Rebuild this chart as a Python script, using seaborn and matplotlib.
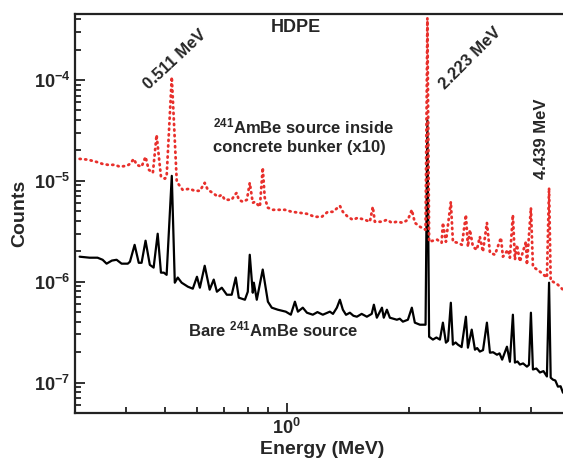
import numpy as np
import matplotlib
matplotlib.use("Agg")
import matplotlib.pyplot as plt
import matplotlib.ticker as mticker
import seaborn as sns

# Bare 241AmBe source (black)
bare_energy = [0.308, 0.326, 0.341, 0.351, 0.359, 0.370, 0.380, 0.391, 0.405, 0.410,
               0.421, 0.431, 0.438, 0.448, 0.459, 0.469, 0.480, 0.489, 0.497, 0.505,
               0.520, 0.529, 0.538, 0.550, 0.570, 0.586, 0.600, 0.610, 0.627, 0.645,
               0.660, 0.672, 0.691, 0.711, 0.731, 0.748, 0.761, 0.788, 0.801, 0.810,
               0.824, 0.829, 0.843, 0.872, 0.898, 0.918, 0.950, 0.994, 1.023, 1.047,
               1.065, 1.095, 1.121, 1.159, 1.190, 1.227, 1.277, 1.300, 1.329, 1.352,
               1.375, 1.400, 1.431, 1.460, 1.489, 1.530, 1.576, 1.620, 1.640, 1.668,
               1.717, 1.735, 1.766, 1.796, 1.830, 1.869, 1.900, 1.934, 1.990, 2.035,
               2.070, 2.130, 2.200, 2.223, 2.245, 2.294, 2.340, 2.387, 2.428, 2.470,
               2.500, 2.540, 2.570, 2.610, 2.644, 2.700, 2.767, 2.799, 2.860, 2.913,
               2.950, 2.995, 3.050, 3.118, 3.172, 3.230, 3.301, 3.350, 3.400, 3.494,
               3.553, 3.614, 3.656, 3.710, 3.761, 3.830, 3.914, 3.960, 4.004, 4.050,
               4.130, 4.214, 4.300, 4.385, 4.439, 4.480, 4.538, 4.600, 4.668, 4.740,
               4.803, 4.900, 5.000]
bare_counts = [1.77e-6, 1.73e-6, 1.73e-6, 1.65e-6, 1.51e-6, 1.62e-6, 1.65e-6, 1.51e-6, 1.51e-6, 1.58e-6,
               2.32e-6, 1.54e-6, 1.54e-6, 2.55e-6, 1.47e-6, 1.38e-6, 2.99e-6, 1.23e-6, 1.23e-6, 1.17e-6,
               1.12e-5, 9.78e-7, 1.10e-6, 9.78e-7, 8.92e-7, 8.53e-7, 1.12e-6, 8.72e-7, 1.44e-6, 8.34e-7,
               1.05e-6, 7.96e-7, 8.72e-7, 7.43e-7, 7.43e-7, 1.10e-6, 6.95e-7, 6.63e-7, 7.96e-7, 1.85e-6,
               7.78e-7, 9.78e-7, 6.63e-7, 1.32e-6, 6.34e-7, 5.53e-7, 5.28e-7, 5.05e-7, 4.71e-7, 6.34e-7,
               5.05e-7, 5.53e-7, 4.93e-7, 4.71e-7, 5.00e-7, 4.71e-7, 5.05e-7, 4.80e-7, 5.53e-7, 6.63e-7,
               5.28e-7, 4.70e-7, 4.93e-7, 4.60e-7, 4.50e-7, 4.80e-7, 4.50e-7, 4.80e-7, 5.92e-7, 4.40e-7,
               5.53e-7, 4.40e-7, 5.28e-7, 4.40e-7, 4.30e-7, 4.20e-7, 4.30e-7, 4.02e-7, 4.20e-7, 5.53e-7,
               3.93e-7, 3.75e-7, 3.75e-7, 4.00e-5, 2.85e-7, 2.67e-7, 2.80e-7, 2.67e-7, 3.93e-7, 2.49e-7,
               2.60e-7, 6.19e-7, 2.38e-7, 2.50e-7, 2.38e-7, 2.25e-7, 4.50e-7, 2.22e-7, 3.35e-7, 2.12e-7,
               2.20e-7, 2.03e-7, 2.10e-7, 3.93e-7, 1.98e-7, 2.00e-7, 1.89e-7, 1.95e-7, 1.69e-7, 2.27e-7,
               1.61e-7, 4.71e-7, 1.58e-7, 1.62e-7, 1.51e-7, 1.55e-7, 1.44e-7, 1.50e-7, 4.93e-7, 1.35e-7,
               1.38e-7, 1.26e-7, 1.30e-7, 1.15e-7, 9.78e-7, 1.12e-7, 1.07e-7, 1.05e-7, 9.13e-8, 9.20e-8,
               7.96e-8, 7.80e-8, 7.40e-8]

# 241AmBe source inside concrete bunker, x10 (red dotted)
bunker_energy = [0.308, 0.323, 0.339, 0.351, 0.362, 0.376, 0.387, 0.403, 0.410, 0.419,
                 0.426, 0.438, 0.448, 0.456, 0.467, 0.477, 0.489, 0.500, 0.505, 0.520,
                 0.535, 0.553, 0.576, 0.592, 0.610, 0.627, 0.638, 0.656, 0.676, 0.691,
                 0.703, 0.731, 0.744, 0.752, 0.761, 0.779, 0.797, 0.810, 0.824, 0.834,
                 0.858, 0.872, 0.882, 0.898, 0.924, 0.950, 0.989, 1.029, 1.077, 1.121,
                 1.172, 1.220, 1.262, 1.299, 1.352, 1.375, 1.414, 1.455, 1.497, 1.558,
                 1.603, 1.630, 1.649, 1.717, 1.766, 1.816, 1.869, 1.934, 1.990, 2.035,
                 2.070, 2.130, 2.200, 2.223, 2.245, 2.294, 2.350, 2.410, 2.428, 2.470,
                 2.540, 2.570, 2.644, 2.705, 2.767, 2.799, 2.831, 2.880, 2.945, 2.995,
                 3.048, 3.118, 3.172, 3.264, 3.377, 3.415, 3.514, 3.553, 3.614, 3.656,
                 3.698, 3.761, 3.892, 3.914, 4.004, 4.050, 4.214, 4.385, 4.439, 4.480,
                 4.538, 4.668, 4.803, 5.000]
bunker_counts = [1.65e-5, 1.62e-5, 1.54e-5, 1.47e-5, 1.44e-5, 1.44e-5, 1.38e-5, 1.41e-5, 1.47e-5, 1.65e-5,
                 1.44e-5, 1.38e-5, 1.73e-5, 1.29e-5, 1.20e-5, 2.85e-5, 1.10e-5, 1.05e-5, 1.10e-5, 1.07e-4,
                 9.78e-6, 8.15e-6, 8.34e-6, 7.96e-6, 7.96e-6, 9.55e-6, 8.15e-6, 7.60e-6, 6.95e-6, 7.26e-6,
                 6.49e-6, 6.49e-6, 7.26e-6, 7.60e-6, 6.49e-6, 6.19e-6, 6.49e-6, 9.55e-6, 6.05e-6, 6.19e-6,
                 5.53e-6, 1.35e-5, 6.79e-6, 5.41e-6, 5.16e-6, 5.16e-6, 5.16e-6, 4.93e-6, 4.82e-6, 4.71e-6,
                 4.40e-6, 4.40e-6, 4.93e-6, 4.93e-6, 5.65e-6, 4.93e-6, 4.40e-6, 4.11e-6, 4.30e-6, 4.11e-6,
                 3.93e-6, 5.53e-6, 3.93e-6, 3.93e-6, 4.11e-6, 3.84e-6, 3.93e-6, 3.84e-6, 4.11e-6, 5.16e-6,
                 3.84e-6, 3.51e-6, 3.27e-6, 4.10e-4, 2.49e-6, 2.55e-6, 2.61e-6, 2.43e-6, 3.84e-6, 2.49e-6,
                 6.19e-6, 2.49e-6, 2.43e-6, 2.32e-6, 4.60e-6, 2.22e-6, 3.27e-6, 2.22e-6, 2.07e-6, 2.79e-6,
                 1.98e-6, 3.84e-6, 1.94e-6, 1.85e-6, 2.73e-6, 1.77e-6, 2.07e-6, 1.73e-6, 4.60e-6, 1.65e-6,
                 2.32e-6, 1.58e-6, 2.49e-6, 1.47e-6, 5.41e-6, 1.41e-6, 1.26e-6, 1.10e-6, 8.53e-6, 1.02e-6,
                 1.00e-6, 9.33e-7, 8.34e-7, 7.80e-7]

sns.set_style("ticks")
plt.rcParams['font.family'] = ['Liberation Sans', 'DejaVu Sans']
plt.rcParams['mathtext.fontset'] = 'custom'
plt.rcParams['mathtext.rm'] = 'Liberation Sans:bold'
plt.rcParams['mathtext.bf'] = 'Liberation Sans:bold'
plt.rcParams['mathtext.default'] = 'bf'

fig = plt.figure(figsize=(5.63, 4.68), dpi=100)
ax = fig.add_axes([75 / 563, 1 - 413 / 468, 495 / 563, 399 / 468])

sns.lineplot(x=bare_energy, y=bare_counts, ax=ax, color='black', lw=1.6,
             estimator=None, sort=False)
sns.lineplot(x=bunker_energy, y=bunker_counts, ax=ax, color='#e8302c', lw=2.0,
             linestyle=(0, (0.4, 1.6)), dash_capstyle='round',
             estimator=None, sort=False)

ax.set_xscale('log')
ax.set_yscale('log')
ax.set_xlim(0.3, 5.0)
ax.set_ylim(5e-8, 4.5e-4)

# bold power-of-ten labels
pow_fmt = mticker.FuncFormatter(lambda v, p: r'$\mathbf{10^{%d}}$' % round(np.log10(v)))
ax.xaxis.set_major_formatter(pow_fmt)
ax.yaxis.set_major_formatter(pow_fmt)
ax.xaxis.set_minor_formatter(mticker.NullFormatter())
ax.yaxis.set_minor_formatter(mticker.NullFormatter())

ax.tick_params(which='both', direction='in', top=False, right=False, width=1.3,
               color='#222222')
ax.tick_params(which='major', length=7, labelsize=13)
ax.tick_params(which='minor', length=4)
for side in ['left', 'bottom', 'top']:
    ax.spines[side].set_linewidth(1.6)
    ax.spines[side].set_color('#222222')
ax.spines['right'].set_visible(False)

ax.set_xlabel('Energy (MeV)', fontsize=14, fontweight='bold', labelpad=2)
ax.set_ylabel('Counts', fontsize=14, fontweight='bold', labelpad=4)

ax.text(1.05, 3.27e-4, 'HDPE', fontsize=13, fontweight='bold', ha='center', va='center')
ax.text(0.529, 1.58e-4, '0.511 MeV', fontsize=12, fontweight='bold', rotation=43,
        ha='center', va='center')
ax.text(2.83, 1.65e-4, '2.223 MeV', fontsize=12, fontweight='bold', rotation=45,
        ha='center', va='center')
ax.text(4.26, 2.61e-5, '4.439 MeV', fontsize=12, fontweight='bold', rotation=90,
        ha='center', va='center')
ax.text(0.657, 2.79e-5, '$^{241}$AmBe source inside\nconcrete bunker (x10)', fontsize=12,
        fontweight='bold', ha='left', va='center', linespacing=1.3)
ax.text(0.570, 3.35e-7, 'Bare $^{241}$AmBe source', fontsize=12, fontweight='bold',
        ha='left', va='center')

fig.savefig('out.png', dpi=100)
